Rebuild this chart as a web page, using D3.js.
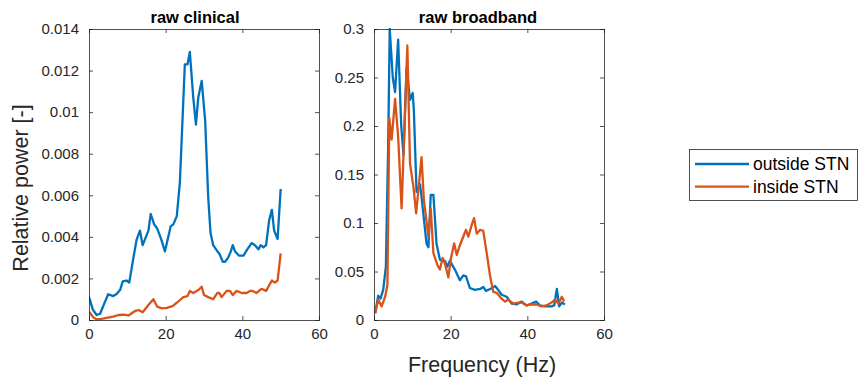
<!DOCTYPE html>
<html>
<head>
<meta charset="utf-8">
<script src="https://cdn.jsdelivr.net/npm/d3@7"></script>
<style>
  html, body { margin: 0; padding: 0; background: #fff; }
  svg { display: block; font-family: "Liberation Sans", Arial, Helvetica, sans-serif; }
</style>
</head>
<body>
<svg id="chart" width="859" height="381"></svg>
<script>
// Power spectra (relative power vs frequency) for two recording sites
const seriesNames = ["outside STN", "inside STN"];
const seriesColors = ["#0072BD", "#D95319"];
const panelTitles = ["raw clinical", "raw broadband"];

const xTicks = [0, 20, 40, 60];
const clinicalYTicks = [0, 0.002, 0.004, 0.006, 0.008, 0.01, 0.012, 0.014];
const broadbandYTicks = [0, 0.05, 0.1, 0.15, 0.2, 0.25, 0.3];

// raw clinical — outside STN
const clinOutFreq = [0, 1, 2, 2.9, 4, 5, 6.3, 7.2, 8.1, 8.8, 9.8, 10.5, 11.5, 12.4, 13.3, 14, 15.5, 16.1, 17, 17.8, 18.8, 19.8, 21.3, 22, 22.9, 23.7, 25, 25.7, 26.3, 27.2, 27.9, 28.5, 29.4, 30.3, 31.1, 31.7, 32.4, 33.5, 34, 34.9, 35.5, 36.3, 37, 37.5, 38.1, 39.1, 40.3, 41.3, 42.4, 43.3, 44.2, 44.8, 45.5, 46.2, 47, 47.7, 48.3, 49.2, 50];
const clinOutVal = [0.00112, 0.0005, 0.00024, 0.0003, 0.0008, 0.00124, 0.00115, 0.00125, 0.00144, 0.00186, 0.0019, 0.0018, 0.0029, 0.00385, 0.0043, 0.0036, 0.0043, 0.0051, 0.0046, 0.0044, 0.0039, 0.0033, 0.0045, 0.0046, 0.0050, 0.0066, 0.0123, 0.0123, 0.0129, 0.0107, 0.0094, 0.0107, 0.0115, 0.0096, 0.0059, 0.0042, 0.0036, 0.0033, 0.0032, 0.0028, 0.0028, 0.0030, 0.0033, 0.0036, 0.0033, 0.0031, 0.0031, 0.0034, 0.0037, 0.0036, 0.0034, 0.0036, 0.0035, 0.0036, 0.0048, 0.0053, 0.0043, 0.0039, 0.0063];

// raw clinical — inside STN
const clinInFreq = [0, 1.1, 2, 3.2, 4.6, 6.3, 7.7, 9, 10.3, 12, 12.9, 14, 15.5, 16.8, 17.8, 19, 20.3, 21.8, 22.9, 24.6, 25.7, 26.3, 27.2, 28.5, 29.4, 30, 31.1, 32.4, 33.5, 34, 34.6, 35.9, 36.8, 37.5, 38.5, 39.8, 41.1, 42, 42.7, 43.7, 45, 46.2, 47.7, 48.5, 49.2, 50];
const clinInVal = [0.0004, 0.00013, 0.00003, 0.00005, 0.0001, 0.00016, 0.00024, 0.00026, 0.00022, 0.00043, 0.00048, 0.00037, 0.00072, 0.001, 0.00064, 0.00056, 0.00058, 0.00067, 0.00083, 0.0011, 0.00115, 0.0014, 0.0013, 0.00144, 0.0016, 0.0012, 0.0011, 0.001, 0.0013, 0.0013, 0.0011, 0.0014, 0.0014, 0.0012, 0.0014, 0.0013, 0.0013, 0.0014, 0.0014, 0.0013, 0.0015, 0.0014, 0.0019, 0.0018, 0.0019, 0.0032];

// raw broadband — outside STN
const bbOutFreq = [0.3, 1.1, 1.7, 2.4, 3.1, 3.7, 4.1, 4.9, 5.5, 6.3, 7.1, 7.7, 8.5, 9.4, 10.1, 10.4, 11.1, 12, 12.4, 13.7, 14.2, 14.8, 15.5, 16.3, 17.2, 18.5, 19.1, 19.8, 21.1, 22.4, 23.3, 24, 25, 26.3, 27.7, 28.5, 29.2, 30.3, 31.6, 32.4, 33.3, 34.6, 35.9, 37.2, 38.5, 39.8, 41.1, 42.3, 43.3, 44.6, 46.3, 47, 47.7, 48.3, 49, 49.8];
const bbOutVal = [0.007, 0.025, 0.022, 0.031, 0.055, 0.18, 0.30, 0.25, 0.235, 0.289, 0.2, 0.17, 0.26, 0.227, 0.234, 0.216, 0.132, 0.14, 0.127, 0.079, 0.075, 0.129, 0.129, 0.079, 0.062, 0.061, 0.055, 0.061, 0.052, 0.041, 0.046, 0.045, 0.033, 0.031, 0.032, 0.034, 0.030, 0.032, 0.035, 0.031, 0.026, 0.024, 0.017, 0.016, 0.019, 0.015, 0.017, 0.019, 0.015, 0.014, 0.014, 0.015, 0.032, 0.014, 0.018, 0.016];

// raw broadband — inside STN
const bbInFreq = [0.3, 1.1, 2, 2.9, 3.5, 4, 4.6, 5.5, 6.3, 7.2, 8.7, 9.4, 10.3, 11, 12.4, 13, 14.2, 14.8, 15.5, 16.5, 17.2, 17.9, 18.5, 19.4, 20, 20.9, 21.6, 22.3, 24, 24.6, 25.5, 26.1, 26.8, 27.7, 28.5, 29.4, 30.3, 31.1, 32, 33.3, 34.2, 35, 36.3, 37.7, 38.5, 39.8, 41.1, 42.4, 43.7, 45, 46.3, 47.2, 48.1, 49, 49.6];
const bbInVal = [0.007, 0.021, 0.014, 0.024, 0.036, 0.208, 0.186, 0.228, 0.189, 0.115, 0.283, 0.161, 0.137, 0.11, 0.168, 0.124, 0.086, 0.115, 0.069, 0.057, 0.052, 0.064, 0.058, 0.044, 0.062, 0.079, 0.067, 0.076, 0.093, 0.086, 0.098, 0.105, 0.089, 0.093, 0.092, 0.069, 0.045, 0.029, 0.028, 0.022, 0.019, 0.021, 0.017, 0.018, 0.018, 0.015, 0.016, 0.016, 0.014, 0.015, 0.018, 0.021, 0.017, 0.024, 0.019];

const axisColor = "#262626";
const svg = d3.select("#chart");

const panels = [
  { title: panelTitles[0], left: 89, right: 319, titleX: 195, yMax: 0.014, yTicks: clinicalYTicks,
    series: [[clinOutFreq, clinOutVal], [clinInFreq, clinInVal]] },
  { title: panelTitles[1], left: 374, right: 604, titleX: 478, yMax: 0.3, yTicks: broadbandYTicks,
    series: [[bbOutFreq, bbOutVal], [bbInFreq, bbInVal]] }
];
const plotTop = 29, plotBottom = 320;

panels.forEach(p => {
  const x = d3.scaleLinear().domain([0, 60]).range([p.left, p.right]);
  const y = d3.scaleLinear().domain([0, p.yMax]).range([plotBottom, plotTop]);
  const g = svg.append("g");

  // clip the traces to the plot box
  const clipId = "clip-" + p.left;
  svg.append("clipPath").attr("id", clipId).append("rect")
    .attr("x", p.left).attr("y", plotTop - 1).attr("width", p.right - p.left).attr("height", plotBottom - plotTop + 2);

  const line = d3.line().x(d => x(d[0])).y(d => y(d[1]));
  p.series.forEach((s, i) => {
    const pts = s[0].map((f, k) => [f, s[1][k]]);
    g.append("path").datum(pts)
      .attr("clip-path", `url(#${clipId})`)
      .attr("fill", "none").attr("stroke", seriesColors[i])
      .attr("stroke-width", 2.3).attr("stroke-linejoin", "round")
      .attr("d", line);
  });

  // axes, ticks pointing inward on all four sides
  const tl = 4;
  const fmt = d => d === 0 ? "0" : String(d);
  const bx = g.append("g").attr("transform", `translate(0,${plotBottom})`)
    .call(d3.axisBottom(x).tickValues(xTicks).tickSize(-tl).tickPadding(8).tickFormat(fmt));
  const tx = g.append("g").attr("transform", `translate(0,${plotTop})`)
    .call(d3.axisTop(x).tickValues(xTicks).tickSize(-tl).tickFormat(""));
  const ly = g.append("g").attr("transform", `translate(${p.left},0)`)
    .call(d3.axisLeft(y).tickValues(p.yTicks).tickSize(-tl).tickPadding(10).tickFormat(fmt));
  const ry = g.append("g").attr("transform", `translate(${p.right},0)`)
    .call(d3.axisRight(y).tickValues(p.yTicks).tickSize(-tl).tickFormat(""));
  [bx, tx, ly, ry].forEach(a => {
    a.select(".domain").attr("stroke", axisColor).attr("stroke-width", 0.8);
    a.selectAll(".tick line").attr("stroke", axisColor).attr("stroke-width", 0.8);
    a.selectAll(".tick text").attr("fill", axisColor).style("font-size", "15px")
      .style("font-family", "'Liberation Sans', Arial, sans-serif");
  });

  g.append("text").attr("x", p.titleX).attr("y", 22.5)
    .attr("text-anchor", "middle").attr("fill", "#000")
    .style("font-size", "16.5px").style("font-weight", "bold")
    .text(p.title);
});

// shared axis labels
svg.append("text").attr("transform", "translate(28,188) rotate(-90)")
  .attr("text-anchor", "middle").attr("fill", axisColor).style("font-size", "21.5px")
  .text("Relative power [-]");
svg.append("text").attr("x", 482).attr("y", 372)
  .attr("text-anchor", "middle").attr("fill", axisColor).style("font-size", "21.5px")
  .text("Frequency (Hz)");

// legend
const lg = svg.append("g");
lg.append("rect").attr("x", 689.5).attr("y", 149.5).attr("width", 168).attr("height", 51)
  .attr("fill", "#fff").attr("stroke", axisColor).attr("stroke-width", 0.8);
seriesNames.forEach((n, i) => {
  const yy = 164 + i * 22.7;
  lg.append("line").attr("x1", 695).attr("x2", 749).attr("y1", yy).attr("y2", yy)
    .attr("stroke", seriesColors[i]).attr("stroke-width", 2.3);
  lg.append("text").attr("x", 753).attr("y", yy + 5.8).attr("fill", "#000")
    .style("font-size", "17.5px").text(n);
});
</script>
</body>
</html>
